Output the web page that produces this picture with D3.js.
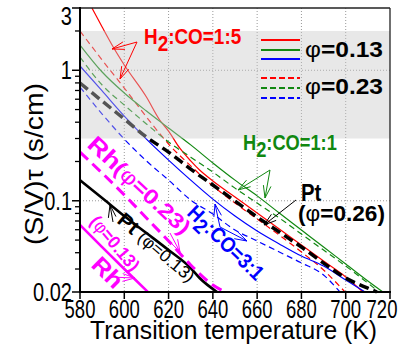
<!DOCTYPE html>
<html>
<head>
<meta charset="utf-8">
<style>
  body { margin: 0; background: #fff; }
  svg { display: block; }
  text { font-family: "Liberation Sans", Arial, sans-serif; }
</style>
</head>
<body>
<div id="chart"></div>
<script src="https://cdn.jsdelivr.net/npm/d3@7"></script>
<script>
// Data: transition temperature (K) and (S/V)tau (s/cm)
const tRed13 = [585.4, 590, 595, 600, 610, 616, 620, 625, 630, 634, 640, 650, 660, 670, 680, 690, 700, 707.8];
const vRed13 = [3.0, 2.145, 1.507, 1.097, 0.624, 0.416, 0.342, 0.254, 0.202, 0.172, 0.142, 0.107, 0.0806, 0.0608, 0.0458, 0.0345, 0.0261, 0.02];
const tRed23 = [580, 590, 600, 610, 620, 630, 640, 650, 660, 670, 680, 690, 695, 699.7];
const vRed23 = [2.0, 1.198, 0.731, 0.439, 0.272, 0.185, 0.130, 0.096, 0.0725, 0.0546, 0.0405, 0.0295, 0.0243, 0.02];
const tGreen13 = [580, 590, 600, 610, 620, 630, 640, 650, 660, 670, 680, 690, 700, 710, 716.8];
const vGreen13 = [1.561, 0.970, 0.670, 0.487, 0.361, 0.268, 0.195, 0.144, 0.109, 0.0806, 0.0597, 0.0442, 0.0328, 0.0243, 0.02];
const tGreen23 = [580, 590, 600, 610, 620, 630, 640, 650, 660, 670, 680, 690, 700, 710, 715];
const vGreen23 = [1.264, 0.771, 0.542, 0.388, 0.282, 0.216, 0.166, 0.125, 0.096, 0.0738, 0.0556, 0.0419, 0.0316, 0.0234, 0.02];
const tBlue13 = [580, 590, 600, 610, 620, 630, 640, 650, 660, 670, 680, 690, 700, 708.7];
const vBlue13 = [1.078, 0.694, 0.446, 0.297, 0.205, 0.144, 0.103, 0.0764, 0.0587, 0.0467, 0.0377, 0.0316, 0.0247, 0.02];
const tBlue23 = [580, 590, 600, 610, 620, 630, 640, 650, 660, 670, 680, 690, 697.4];
const vBlue23 = [0.744, 0.462, 0.297, 0.202, 0.144, 0.1014, 0.0792, 0.0597, 0.0492, 0.0405, 0.0334, 0.027, 0.02];
const tPt26 = [580, 590, 600, 610, 620, 630, 640, 650, 660, 670, 680, 690, 700, 710, 714.1];
const vPt26 = [0.799, 0.581, 0.423, 0.308, 0.236, 0.175, 0.132, 0.0996, 0.0751, 0.0576, 0.0442, 0.0333, 0.0256, 0.0214, 0.02];
const tPt13 = [580, 590, 600, 610, 620, 630, 634, 641.9];
const vPt13 = [0.144, 0.105, 0.0764, 0.0566, 0.0419, 0.0305, 0.0256, 0.02];
const tRh23 = [580, 590, 600, 610, 620, 630, 640, 645.5];
const vRh23 = [0.236, 0.163, 0.111, 0.0738, 0.0492, 0.0322, 0.0226, 0.02];
const tRh13 = [580, 590, 600, 610.7];
const vRh13 = [0.0652, 0.0442, 0.030, 0.02];

const xTicks = [580, 600, 620, 640, 660, 680, 700, 720];
const yLabels = [[3, "3"], [1, "1"], [0.1, "0.1"], [0.02, "0.02"]];
const yMinor = [0.03, 0.04, 0.05, 0.06, 0.07, 0.08, 0.09, 0.2, 0.3, 0.4, 0.5, 0.6, 0.7, 0.8, 0.9, 2];
const band = [0.3, 2];

const W = 402, H = 347;
const x = d3.scaleLinear().domain([580, 720]).range([80, 390]);
const y = d3.scaleLog().domain([0.02, 3]).range([292, 8]);

const svg = d3.select("#chart").append("svg").attr("width", W).attr("height", H);

// grid
const grid = svg.append("g").attr("stroke", "#999").attr("stroke-width", 1).attr("stroke-dasharray", "1,2");
grid.selectAll("line.v").data(xTicks.slice(1, -1)).enter().append("line")
  .attr("x1", d => x(d)).attr("x2", d => x(d)).attr("y1", y(3)).attr("y2", y(0.02));
grid.selectAll("line.h").data([1, 0.1]).enter().append("line")
  .attr("x1", x(580)).attr("x2", x(720)).attr("y1", d => y(d)).attr("y2", d => y(d));

// curves
const series = [
  { t: tRed13, v: vRed13, c: "#ff0000", w: 1.2, dash: null },
  { t: tRed23, v: vRed23, c: "#ff0000", w: 1.2, dash: "6,4" },
  { t: tGreen13, v: vGreen13, c: "#118811", w: 1.2, dash: null },
  { t: tGreen23, v: vGreen23, c: "#118811", w: 1.2, dash: "6,4" },
  { t: tBlue13, v: vBlue13, c: "#0000ff", w: 1.2, dash: null },
  { t: tBlue23, v: vBlue23, c: "#0000ff", w: 1.2, dash: "6,4" },
  { t: tPt26, v: vPt26, c: "#000", w: 3.5, dash: "10,5" },
  { t: tPt13, v: vPt13, c: "#000", w: 2.6, dash: null },
  { t: tRh23, v: vRh23, c: "#ff00ff", w: 3, dash: "11,6" },
  { t: tRh13, v: vRh13, c: "#ff00ff", w: 2.6, dash: null }
];
const line = d3.line().x(d => x(d[0])).y(d => y(d[1])).curve(d3.curveMonotoneX);
svg.append("g").selectAll("path").data(series).enter().append("path")
  .attr("d", s => line(s.t.map((t, i) => [t, s.v[i]])))
  .attr("fill", "none")
  .attr("stroke", s => s.c)
  .attr("stroke-width", s => s.w)
  .attr("stroke-dasharray", s => s.dash);

// shaded band (semi-transparent, over curves)
svg.append("rect")
  .attr("x", x(580)).attr("width", x(720) - x(580))
  .attr("y", y(band[1])).attr("height", y(band[0]) - y(band[1]))
  .attr("fill", "#c8c8c8").attr("opacity", 0.42);

// helpers
function label(str, px, py, opt) {
  const o = Object.assign({ size: 20, weight: "bold", fill: "#000", rot: 0, anchor: "start", sx: 1 }, opt);
  const t = svg.append("text")
    .attr("transform", `translate(${px},${py}) rotate(${o.rot}) scale(${o.sx},1)`)
    .attr("font-size", o.size).attr("font-weight", o.weight).attr("fill", o.fill)
    .attr("text-anchor", o.anchor);
  if (o.len) t.attr("textLength", o.len).attr("lengthAdjust", "spacingAndGlyphs");
  return t;
}
function addSpans(t, parts) {
  parts.forEach(p => {
    const s = t.append("tspan").text(p.s);
    if (p.dy) s.attr("dy", p.dy);
    if (p.size) s.attr("font-size", p.size);
    if (p.weight) s.attr("font-weight", p.weight);
  });
}
function arrow(x1, y1, x2, y2, color) {
  const g = svg.append("g").attr("stroke", color).attr("stroke-width", 1).attr("fill", "none");
  g.append("line").attr("x1", x1).attr("y1", y1).attr("x2", x2).attr("y2", y2);
  const a = Math.atan2(y1 - y2, x1 - x2), L = 13, sp = 0.3;
  [a - sp, a + sp].forEach(b => g.append("line")
    .attr("x1", x2).attr("y1", y2).attr("x2", x2 + L * Math.cos(b)).attr("y2", y2 + L * Math.sin(b)));
}

// annotations
addSpans(label("", 144, 44, { fill: "#ff0000", size: 22, sx: 0.86 }),
  [{ s: "H" }, { s: "2", dy: 7 }, { s: ":CO=1:5", dy: -7 }]);
arrow(137, 42, 112, 49, "#ff0000");
arrow(137, 42, 120, 79, "#ff0000");

addSpans(label("", 243, 150, { fill: "#118811", size: 22, sx: 0.83 }),
  [{ s: "H" }, { s: "2", dy: 7 }, { s: ":CO=1:1", dy: -7 }]);
arrow(270, 170, 238, 190, "#118811");
arrow(270, 170, 265, 198, "#118811");

label("", 301, 201, { size: 24, sx: 0.85 }).text("Pt");
addSpans(label("", 298, 221, { size: 22, len: 87 }), [{ s: "(" }, { s: "φ", weight: "normal" }, { s: "=0.26)" }]);
arrow(296, 200, 264, 225, "#000");

addSpans(label("", 186, 214, { fill: "#0000ff", size: 21, rot: 44, sx: 0.9 }),
  [{ s: "H" }, { s: "2", dy: 6 }, { s: ":CO=3:1", dy: -6 }]);
arrow(220, 227, 215, 204, "#0000ff");
arrow(220, 227, 247, 241, "#0000ff");

addSpans(label("", 86, 146, { fill: "#ff00ff", size: 21, rot: 43, len: 132 }),
  [{ s: "Rh", size: 23 }, { s: "(" }, { s: "φ", weight: "normal" }, { s: "=0.23)" }]);
arrow(170, 233, 180, 252, "#ff00ff");

addSpans(label("", 89, 222, { fill: "#ff00ff", size: 18, rot: 50, len: 66 }),
  [{ s: "(" }, { s: "φ", weight: "normal" }, { s: "=0.13)" }]);
label("", 90, 266, { fill: "#ff00ff", size: 23, rot: 45, len: 34 }).text("Rh");
arrow(110, 277, 135, 278, "#ff00ff");

addSpans(label("", 116, 222, { size: 17, rot: 40, len: 95 }),
  [{ s: "Pt ", size: 20 }, { s: "(φ=0.13)", weight: "normal" }]);
arrow(113, 222, 110, 205, "#000");

// legend
const legend = [
  { c: "#ff0000", yy: 40, dash: null }, { c: "#118811", yy: 50, dash: null }, { c: "#0000ff", yy: 59, dash: null },
  { c: "#ff0000", yy: 78, dash: "6,3" }, { c: "#118811", yy: 88, dash: "6,3" }, { c: "#0000ff", yy: 98, dash: "6,3" }
];
svg.append("g").selectAll("line").data(legend).enter().append("line")
  .attr("x1", 261).attr("x2", 300).attr("y1", d => d.yy).attr("y2", d => d.yy)
  .attr("stroke", d => d.c).attr("stroke-width", 2).attr("stroke-dasharray", d => d.dash);
addSpans(label("", 305, 57, { size: 22, len: 78 }), [{ s: "φ", weight: "normal" }, { s: "=0.13" }]);
addSpans(label("", 305, 94, { size: 22, len: 78 }), [{ s: "φ", weight: "normal" }, { s: "=0.23" }]);

// axes
const ax = svg.append("g");
ax.append("line").attr("x1", x(720)).attr("x2", x(720)).attr("y1", y(3)).attr("y2", y(0.02)).attr("stroke", "#222").attr("stroke-width", 1.3);
ax.append("line").attr("x1", x(580)).attr("x2", x(720)).attr("y1", y(3)).attr("y2", y(3)).attr("stroke", "#222").attr("stroke-width", 1.3);
ax.append("line").attr("x1", x(580)).attr("x2", x(580)).attr("y1", y(3) - 1).attr("y2", y(0.02) + 1).attr("stroke", "#000").attr("stroke-width", 2);
ax.append("line").attr("x1", x(580) - 1).attr("x2", x(720) + 1).attr("y1", y(0.02)).attr("y2", y(0.02)).attr("stroke", "#000").attr("stroke-width", 2);

ax.selectAll("line.xt").data(xTicks).enter().append("line")
  .attr("x1", d => x(d)).attr("x2", d => x(d)).attr("y1", y(0.02)).attr("y2", y(0.02) + 7)
  .attr("stroke", "#000").attr("stroke-width", 1.5);
// the last label is nudged left so it stays inside the picture
xTicks.forEach(d => label("", d === 720 ? 382 : x(d), 318, { size: 25, weight: "normal", anchor: "middle", sx: 0.74 }).text(d));

ax.selectAll("line.ym").data(yLabels).enter().append("line")
  .attr("x1", x(580) - 8).attr("x2", x(580)).attr("y1", d => y(d[0])).attr("y2", d => y(d[0]))
  .attr("stroke", "#000").attr("stroke-width", 1.5);
ax.selectAll("line.yn").data(yMinor).enter().append("line")
  .attr("x1", x(580) - 5).attr("x2", x(580)).attr("y1", d => y(d)).attr("y2", d => y(d))
  .attr("stroke", "#000").attr("stroke-width", 1.3);
yLabels.forEach(d => {
  const yy = d[0] === 3 ? 25 : y(d[0]) + 9;
  label("", 72, yy, { size: 25, weight: "normal", anchor: "end", sx: 0.8 }).text(d[1]);
});

// axis titles
label("", 90, 339, { size: 25, weight: "normal", len: 287 }).text("Transition temperature (K)");
label("", 43, 164, { size: 26, weight: "normal", rot: -90, anchor: "middle", len: 162 }).text("(S/V)τ (s/cm)");
</script>
</body>
</html>
